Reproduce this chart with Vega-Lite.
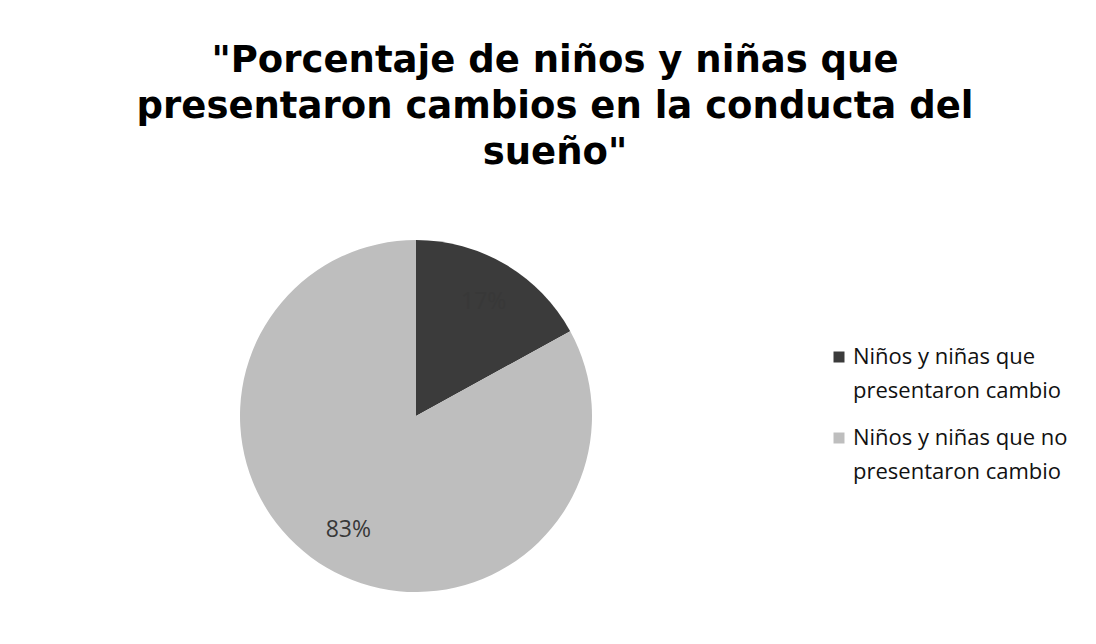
{
  "$schema": "https://vega.github.io/schema/vega-lite/v6.json",
  "autosize": {"type": "none"},
  "width": 352,
  "height": 352,
  "padding": {"left": 240, "top": 240, "right": 504, "bottom": 52},
  "background": "white",
  "title": {
    "text": ["\"Porcentaje de niños y niñas que", "presentaron cambios en la conducta del", "sueño\""],
    "font": "DejaVu Sans",
    "fontSize": 37,
    "fontWeight": "bold",
    "color": "#000000",
    "lineHeight": 46,
    "anchor": "middle",
    "frame": "group",
    "dx": 139,
    "offset": 68
  },
  "data": {
    "values": [
      {"grupo": "Niños y niñas que presentaron cambio", "porcentaje": 17, "orden": 1, "etiqueta": "17%"},
      {"grupo": "Niños y niñas que no presentaron cambio", "porcentaje": 83, "orden": 2, "etiqueta": "83%"}
    ]
  },
  "encoding": {
    "theta": {"field": "porcentaje", "type": "quantitative", "stack": true},
    "order": {"field": "orden", "type": "quantitative"}
  },
  "layer": [
    {
      "mark": {"type": "arc", "outerRadius": 176},
      "encoding": {
        "color": {
          "field": "grupo",
          "type": "nominal",
          "sort": ["Niños y niñas que presentaron cambio", "Niños y niñas que no presentaron cambio"],
          "scale": {"range": ["#3b3b3b", "#bebebe"]},
          "legend": {
            "title": null,
            "orient": "none",
            "legendX": 588,
            "legendY": 106,
            "symbolType": "square",
            "symbolSize": 121,
            "symbolStrokeWidth": 0,
            "labelFont": "Open Sans",
            "labelFontSize": 22,
            "labelColor": "#111111",
            "labelLimit": 400,
            "labelOffset": 3,
            "rowPadding": 25,
            "labelExpr": "datum.label == 'Niños y niñas que presentaron cambio' ? [' Niños y niñas que', 'presentaron cambio'] : ['Niños y niñas que no', 'presentaron cambio']",
            "encode": {"labels": {"update": {"lineHeight": {"value": 34}}}}
          }
        }
      }
    },
    {
      "mark": {"type": "text", "radius": 133, "font": "Open Sans", "fontSize": 23, "color": "#383838"},
      "encoding": {"text": {"field": "etiqueta", "type": "nominal"}}
    }
  ]
}
